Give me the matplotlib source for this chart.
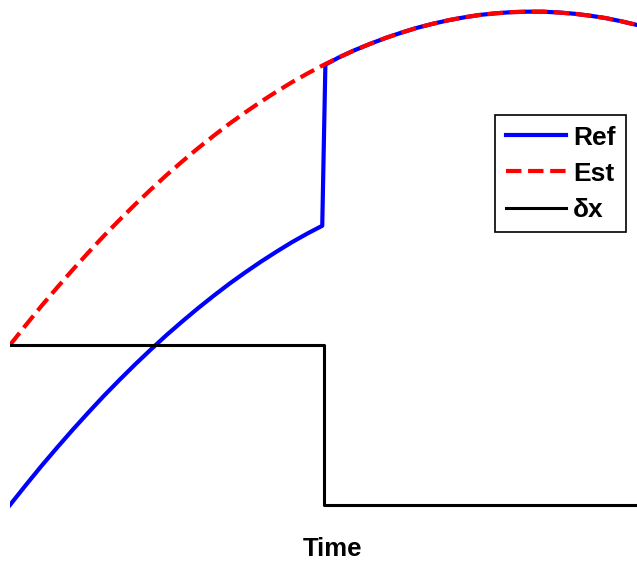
import matplotlib
matplotlib.use('Agg')
import matplotlib.pyplot as plt

plt.rcParams['font.family'] = ['Liberation Sans', 'DejaVu Sans']

# Estimated state
t_est = [0.0, 0.25, 0.5, 0.75, 1.0, 1.25, 1.5, 1.75, 2.0, 2.25, 2.5, 2.75,
         3.0, 3.25, 3.5, 3.75, 4.0, 4.25, 4.5, 4.75, 5.0, 5.25, 5.5, 5.75,
         6.0, 6.25, 6.5, 6.75, 7.0, 7.25, 7.5, 7.75, 8.0, 8.25, 8.5, 8.75,
         9.0, 9.25, 9.5, 9.75, 10.0]
est = [1.000, 1.123, 1.243, 1.358, 1.470, 1.578, 1.683, 1.783, 1.880, 1.973,
       2.063, 2.148, 2.230, 2.308, 2.383, 2.453, 2.520, 2.583, 2.643, 2.698,
       2.750, 2.798, 2.843, 2.883, 2.920, 2.953, 2.983, 3.008, 3.030, 3.048,
       3.063, 3.073, 3.080, 3.083, 3.083, 3.078, 3.070, 3.058, 3.043, 3.023,
       3.000]

# Reference state: offset below Est until the correction, then on Est
t_ref = [0.0, 0.25, 0.5, 0.75, 1.0, 1.25, 1.5, 1.75, 2.0, 2.25, 2.5, 2.75,
         3.0, 3.25, 3.5, 3.75, 4.0, 4.25, 4.5, 4.75, 4.98, 5.03, 5.25, 5.5,
         5.75, 6.0, 6.25, 6.5, 6.75, 7.0, 7.25, 7.5, 7.75, 8.0, 8.25, 8.5,
         8.75, 9.0, 9.25, 9.5, 9.75, 10.0]
ref = [0.000, 0.123, 0.243, 0.358, 0.470, 0.578, 0.683, 0.783, 0.880, 0.973,
       1.063, 1.148, 1.230, 1.308, 1.383, 1.453, 1.520, 1.583, 1.643, 1.698,
       1.745, 2.752, 2.798, 2.843, 2.883, 2.920, 2.953, 2.983, 3.008, 3.030,
       3.048, 3.063, 3.073, 3.080, 3.083, 3.083, 3.078, 3.070, 3.058, 3.043,
       3.023, 3.000]

# Correction step
t_dx = [0.0, 5.0, 5.0, 10.0]
dx = [1.0, 1.0, 0.0, 0.0]

fig = plt.figure(figsize=(6.37, 5.61), dpi=100)
ax = fig.add_axes([10 / 637, 41 / 561, 627 / 637, 520 / 561])

ax.plot(t_ref, ref, color='#0000ff', linewidth=3, label='Ref')
ax.plot(t_est, est, color='#ff0000', linewidth=3, linestyle='--', label='Est')
ax.plot(t_dx, dx, color='black', linewidth=2.2, label='\u03b4x')

ax.set_xlim(0, 10)
ax.set_ylim(-0.094, 3.156)
ax.set_xticks([])
ax.set_yticks([])
for s in ax.spines.values():
    s.set_visible(False)

ax.set_xlabel('Time', fontsize=18.5, fontweight='bold')
ax.xaxis.set_label_coords((332 - 10) / 627, -17 / 520)

leg = ax.legend(loc='upper right', bbox_to_anchor=(626 / 637, 1 - 115 / 561),
                bbox_transform=fig.transFigure, borderaxespad=0,
                fancybox=False, framealpha=1, edgecolor='black',
                prop={'size': 19, 'weight': 'bold'},
                handlelength=2.3, handletextpad=0.25, labelspacing=0.46,
                borderpad=0.4)
leg.get_frame().set_linewidth(1.2)

fig.savefig('out.png', dpi=100)
